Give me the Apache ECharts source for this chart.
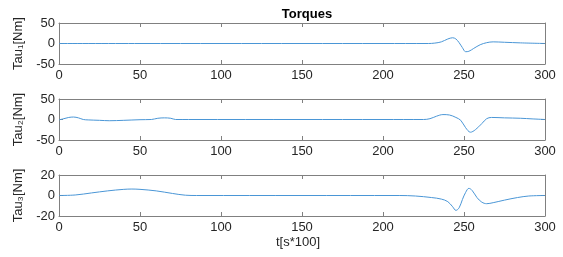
<!DOCTYPE html>
<html>
<head>
<meta charset="utf-8">
<script src="https://cdn.jsdelivr.net/npm/echarts@6/dist/echarts.min.js"></script>
<style>
  html, body { margin: 0; padding: 0; background: #fff; }
  #chart { width: 563px; height: 257px; }
</style>
</head>
<body>
<div id="chart"></div>
<script>
// values
var xTicks = [0, 50, 100, 150, 200, 250, 300]
var t1 = [0, 50, 100, 150, 200, 228, 232, 236, 240, 243, 245, 247, 249, 251, 253, 256, 260, 264, 268, 275, 285, 300]
var tau1 = [0, 0, 0, 0, 0, 0, 1, 4, 11, 14, 11, 2, -10, -20, -19, -12, -3, 2, 4, 3, 1.5, 0]
var t2 = [0, 3, 6, 9, 12, 15, 18, 25, 31, 40, 50, 57, 61, 65, 69, 72, 80, 150, 200, 225, 229, 233, 237, 241, 245, 248, 251, 254, 257, 261, 264, 267, 275, 285, 292, 300]
var tau2 = [-1, 2, 5, 6, 4, 0, -1, -2, -3, -2, -0.5, 0, 3, 4, 3, 0, 0, 0, 0, 0, 2, 8, 12, 11, 5, -2, -20, -31, -25, -10, 2, 5, 4, 3, 1.5, 0]
var t3 = [0, 10, 20, 30, 40, 45, 50, 60, 70, 78, 85, 150, 210, 220, 230, 236, 240, 243, 245, 247, 249, 251, 253, 255, 258, 261, 264, 268, 275, 283, 290, 300]
var tau3 = [0, 0.5, 2.5, 4.5, 6, 6.3, 6, 4.5, 2, 0.3, 0, 0, 0, -0.5, -2, -3.5, -6, -11, -14.5, -12, -4, 3, 7, 5, -2, -6.5, -8, -7, -4.5, -2, -0.5, 0]

function pairs(t, v) {
    return t.map(function (x, i) { return [x, v[i]] })
}

var chart = echarts.init(document.getElementById('chart'))
var axisColor = '#808080'
var textColor = '#262626'
var lineColor = '#4a96d6'
var font = 'Liberation Sans, Arial, sans-serif'

var panels = [
    { top: 23, name: 'Tau\u2081[Nm]', lim: 50, data: pairs(t1, tau1) },
    { top: 99, name: 'Tau\u2082[Nm]', lim: 50, data: pairs(t2, tau2) },
    { top: 175, name: 'Tau\u2083[Nm]', lim: 20, data: pairs(t3, tau3) }
]

var grid = [], xAxis = [], yAxis = [], series = []
panels.forEach(function (p, i) {
    grid.push({ left: 59, right: 18, top: p.top, height: 41 })
    // bottom axis with labels
    xAxis.push({
        gridIndex: i, type: 'value', min: 0, max: 300, interval: 50,
        axisLine: { show: true, onZero: false, lineStyle: { color: axisColor } },
        axisTick: { show: true, inside: true, length: 4, lineStyle: { color: axisColor } },
        axisLabel: { color: textColor, fontSize: 13, fontFamily: font, margin: 5 },
        splitLine: { show: false }
    })
    // top box edge
    xAxis.push({
        gridIndex: i, type: 'value', min: 0, max: 300, interval: 50, position: 'top',
        axisLine: { show: true, onZero: false, lineStyle: { color: axisColor } },
        axisTick: { show: true, inside: true, length: 4, lineStyle: { color: axisColor } },
        axisLabel: { show: false },
        splitLine: { show: false }
    })
    yAxis.push({
        gridIndex: i, type: 'value', min: -p.lim, max: p.lim, interval: p.lim,
        name: p.name, nameLocation: 'middle', nameGap: 34, nameRotate: 90,
        nameTextStyle: { color: textColor, fontSize: 13, fontFamily: font },
        axisLine: { show: true, onZero: false, lineStyle: { color: axisColor } },
        axisTick: { show: true, inside: true, length: 4, lineStyle: { color: axisColor } },
        axisLabel: { color: textColor, fontSize: 13, fontFamily: font, margin: 4 },
        splitLine: { show: false }
    })
    yAxis.push({
        gridIndex: i, type: 'value', min: -p.lim, max: p.lim, interval: p.lim, position: 'right',
        axisLine: { show: true, onZero: false, lineStyle: { color: axisColor } },
        axisTick: { show: true, inside: true, length: 4, lineStyle: { color: axisColor } },
        axisLabel: { show: false },
        splitLine: { show: false }
    })
    series.push({
        type: 'line',
        xAxisIndex: i * 2,
        yAxisIndex: i * 2,
        showSymbol: false,
        smooth: 0.35,
        lineStyle: { color: lineColor, width: 1 },
        data: p.data
    })
})

var option = {
    animation: false,
    title: [{
        text: 'Torques', left: 302, top: 3, textAlign: 'center',
        textStyle: { color: '#000', fontSize: 13, fontWeight: 'bold', fontFamily: font }
    }],
    graphic: [{
        type: 'text', left: 276, top: 236,
        style: { text: 't[s*100]', fill: textColor, fontSize: 13, fontFamily: font }
    }],
    grid: grid,
    xAxis: xAxis,
    yAxis: yAxis,
    series: series
}
chart.setOption(option)
</script>
</body>
</html>
